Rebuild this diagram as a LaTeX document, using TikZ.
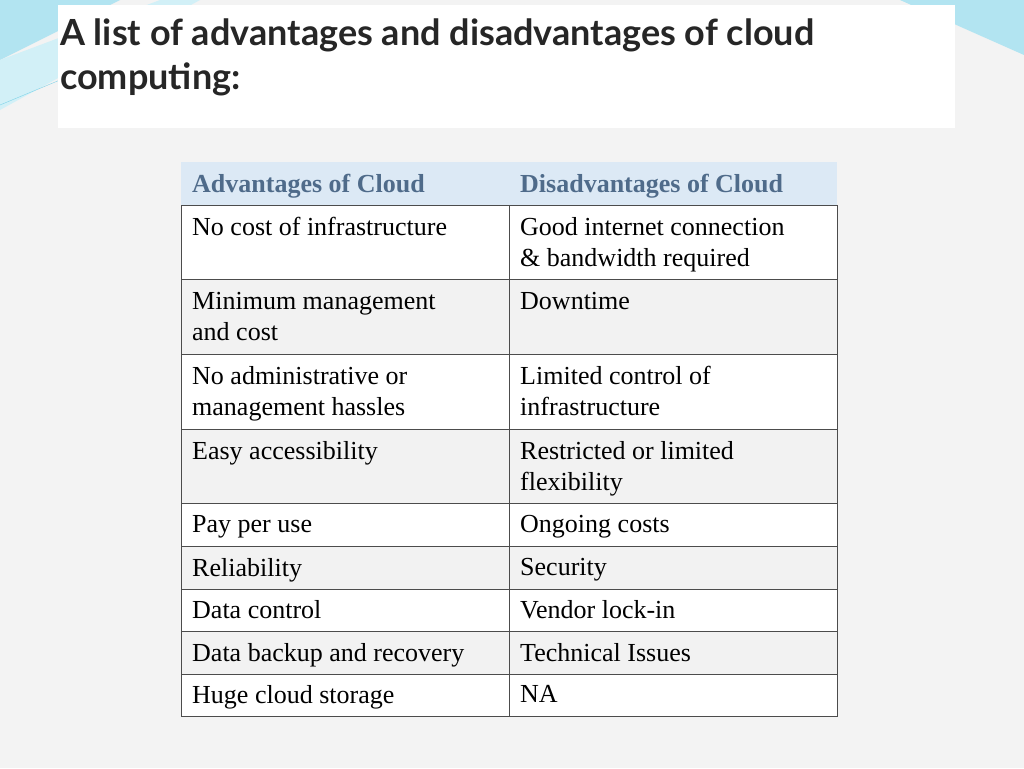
\documentclass[tikz,border=0pt]{standalone}
\usepackage{fontspec}
\setmainfont{Liberation Serif}
\newfontfamily\titlefont{Lato}
\begin{document}
\begin{tikzpicture}[x=1pt,y=-1pt,
  cell/.style={anchor=north west,align=left,inner sep=0pt,font=\fontsize{26}{31}\selectfont},
  head/.style={cell,text=headtxt,font=\fontsize{26}{31}\selectfont\bfseries}]
\definecolor{bg}{HTML}{F3F3F3}
\definecolor{headfill}{HTML}{DCE9F5}
\definecolor{headtxt}{HTML}{4F6B8A}
\definecolor{alt}{HTML}{F2F2F2}
\definecolor{deco}{HTML}{7FD3E8}
\useasboundingbox (0,0) rectangle (1024,768);
\fill[bg] (0,0) rectangle (1024,768);
% decorations
\fill[deco!60] (0,0) -- (120,0) -- (0,60) -- cycle;
\fill[deco!35] (0,60) -- (160,0) -- (200,0) -- (0,110) -- cycle;
\fill[deco!60] (1024,0) -- (900,0) -- (1024,55) -- cycle;
\draw[deco] (0,105) -- (60,80);
\fill[white] (58,5) rectangle (955,128);
\node[anchor=north west,align=left,inner sep=0pt,font=\titlefont\fontsize{36}{44}\selectfont\bfseries,text=black!85] (title) at (60,19) {A list of advantages and disadvantages of cloud\\computing:};
% table
\fill[headfill] (181,162) rectangle (837,205);
\foreach \a/\b/\f in {205/279/white,279/354/alt,354/429/white,429/503/alt,503/546/white,546/589/alt,589/631/white,631/674/alt,674/716/white}
  \fill[\f] (181,\a) rectangle (837,\b);
\draw[black!70,line width=0.8] (181,205) rectangle (837,716);
\foreach \y in {279,354,429,503,546,589,631,674} \draw[black!70,line width=0.8] (181,\y) -- (837,\y);
\draw[black!70,line width=0.8] (509,205) -- (509,716);
\node[head] (h1) at (192,174) {Advantages of Cloud};
\node[head] (h2) at (520,174) {Disadvantages of Cloud};
\foreach \y/\l/\r [count=\i] in {
 217/{No cost of infrastructure}/{Good internet connection\\\& bandwidth required},
 292/{Minimum management\\and cost}/{Downtime},
 366/{No administrative or\\management hassles}/{Limited control of\\infrastructure},
 441/{Easy accessibility}/{Restricted or limited\\flexibility},
 515/{Pay per use}/{Ongoing costs},
 558/{Reliability}/{Security},
 600/{Data control}/{Vendor lock-in},
 643/{Data backup and recovery}/{Technical Issues},
 685/{Huge cloud storage}/{NA}}{
 \node[cell] (l\i) at (192,\y) {\l};
 \node[cell] (r\i) at (520,\y) {\r};
}
\end{tikzpicture}
\end{document}
